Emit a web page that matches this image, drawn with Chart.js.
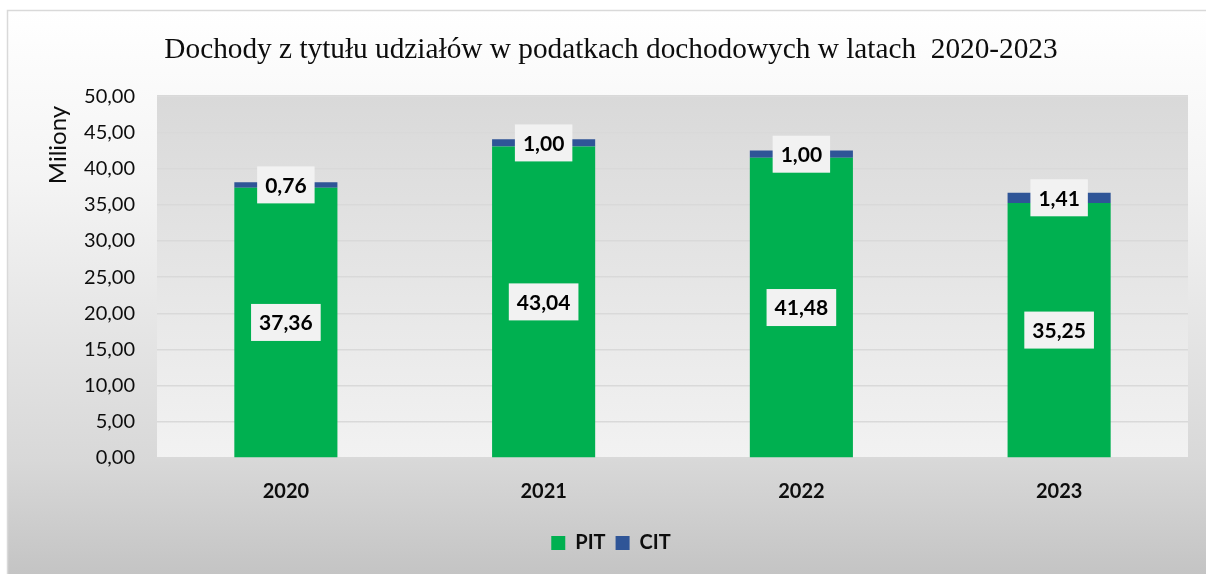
<!DOCTYPE html>
<html>
<head>
<meta charset="utf-8">
<script src="https://cdn.jsdelivr.net/npm/chart.js@4.4.1/dist/chart.umd.min.js"></script>
<style>
html,body{margin:0;padding:0;background:#fff;}
#wrap{width:1206px;height:574px;position:relative;}
</style>
</head>
<body>
<div id="wrap"><canvas id="c" width="1206" height="574"></canvas></div>
<script>
const categories = ['2020', '2021', '2022', '2023'];
const pitValues = [37.36, 43.04, 41.48, 35.25];
const citValues = [0.76, 1.00, 1.00, 1.41];
const seriesNames = ['PIT', 'CIT'];
const chartTitle = 'Dochody z tytułu udziałów w podatkach dochodowych w latach  2020-2023';
const yAxisTitle = 'Miliony';
const yMin = 0, yMax = 50, yStep = 5;

const fmt = v => v.toFixed(2).replace('.', ',');

const bgPlugin = {
  id: 'bg',
  beforeDraw(chart) {
    const ctx = chart.ctx, W = chart.width, H = chart.height;
    ctx.save();
    ctx.fillStyle = '#ffffff';
    ctx.fillRect(0, 0, W, H);
    const g = ctx.createLinearGradient(0, 10, 0, H);
    g.addColorStop(0, '#ffffff');
    g.addColorStop(0.3, '#f4f4f4');
    g.addColorStop(0.8, '#d8d8d8');
    g.addColorStop(1, '#c4c4c4');
    ctx.fillStyle = g;
    ctx.fillRect(7, 10, W - 7, H - 10);
    ctx.strokeStyle = '#d9d9d9';
    ctx.lineWidth = 1.5;
    ctx.beginPath();
    ctx.moveTo(7.5, H);
    ctx.lineTo(7.5, 10.5);
    ctx.lineTo(W, 10.5);
    ctx.stroke();
    const a = chart.chartArea;
    const g2 = ctx.createLinearGradient(0, a.top, 0, a.bottom);
    g2.addColorStop(0, '#d9d9d9');
    g2.addColorStop(1, '#f2f2f2');
    ctx.fillStyle = g2;
    ctx.fillRect(a.left, a.top, a.right - a.left, a.bottom - a.top);
    ctx.restore();
  },
  afterDraw(chart) {
    const ctx = chart.ctx;
    ctx.save();
    ctx.translate(58, 145);
    ctx.rotate(-Math.PI / 2);
    ctx.fillStyle = '#0d0d0d';
    ctx.font = '24px Lato';
    ctx.textAlign = 'center';
    ctx.textBaseline = 'middle';
    ctx.fillText(yAxisTitle, 0, 0);
    ctx.restore();
  }
};

const labelPlugin = {
  id: 'barLabels',
  afterDatasetsDraw(chart) {
    const ctx = chart.ctx;
    ctx.save();
    ctx.font = 'bold 21px Lato';
    ctx.textAlign = 'center';
    ctx.textBaseline = 'middle';
    chart.data.datasets.forEach((ds, di) => {
      const meta = chart.getDatasetMeta(di);
      meta.data.forEach((bar, i) => {
        const txt = fmt(ds.data[i]);
        const cx = bar.x;
        const cy = (bar.y + bar.base) / 2;
        const w = ctx.measureText(txt).width + 16;
        const h = 37;
        ctx.fillStyle = '#f2f2f2';
        ctx.fillRect(cx - w / 2, cy - h / 2, w, h);
        ctx.fillStyle = '#000000';
        ctx.fillText(txt, cx, cy + 1);
      });
    });
    ctx.restore();
  }
};

new Chart(document.getElementById('c'), {
  type: 'bar',
  data: {
    labels: categories,
    datasets: [
      { label: seriesNames[0], data: pitValues, backgroundColor: '#00b050', borderWidth: 0 },
      { label: seriesNames[1], data: citValues, backgroundColor: '#2f5597', borderWidth: 0 }
    ]
  },
  options: {
    responsive: false,
    animation: false,
    devicePixelRatio: 1,
    layout: { padding: { left: 34, right: 18, top: 10, bottom: 11 } },
    datasets: { bar: { categoryPercentage: 1.0, barPercentage: 0.4 } },
    plugins: {
      title: {
        display: true,
        text: chartTitle,
        color: '#0d0d0d',
        font: { family: 'Liberation Serif', size: 29.3, weight: 'normal', lineHeight: 1.2 },
        padding: { top: 23, bottom: 28 }
      },
      legend: {
        display: true,
        position: 'bottom',
        labels: {
          color: '#0d0d0d',
          font: { family: 'Lato', size: 20, weight: 'bold' },
          boxWidth: 14, boxHeight: 14, padding: 10
        }
      },
      tooltip: { enabled: false }
    },
    scales: {
      x: {
        stacked: true,
        grid: { display: false, drawTicks: false },
        border: { display: true, color: '#d9d9d9', width: 1.5 },
        ticks: { color: '#0d0d0d', font: { family: 'Lato', size: 20, weight: 'bold' }, padding: 22 },
        afterFit(s) { s.height = 65; }
      },
      y: {
        stacked: true,
        min: yMin, max: yMax,
        grid: { color: '#d9d9d9', lineWidth: 1.5, drawTicks: false },
        border: { display: false },
        ticks: {
          stepSize: yStep,
          color: '#0d0d0d',
          font: { family: 'Lato', size: 20 },
          padding: 22,
          callback: v => fmt(v)
        },
        afterFit(s) { s.width = 123; }
      }
    }
  },
  plugins: [bgPlugin, labelPlugin]
});
</script>
</body>
</html>
